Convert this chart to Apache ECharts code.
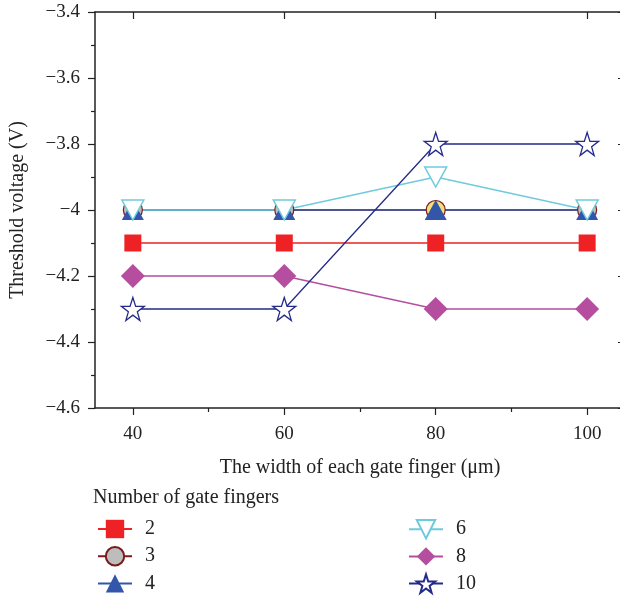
<!DOCTYPE html>
<html><head><meta charset="utf-8">
<script src="https://cdn.jsdelivr.net/npm/echarts@6/dist/echarts.min.js"></script>
<style>html,body{margin:0;padding:0;background:#fff}#c{width:620px;height:596px}</style>
</head><body><div id="c"></div>
<script>
const widths = [40, 60, 80, 100];
const xTicks = [40, 60, 80, 100];
const xMinorTicks = [50, 70, 90];
const seriesNames = ['2', '3', '4', '6', '8', '10'];
const vt2 = [-4.1, -4.1, -4.1, -4.1];
const vt3 = [-4.0, -4.0, -4.0, -4.0];
const vt4 = [-4.0, -4.0, -4.0, -4.0];
const vt6 = [-4.0, -4.0, -3.9, -4.0];
const vt8 = [-4.2, -4.2, -4.3, -4.3];
const vt10 = [-4.3, -4.3, -3.8, -3.8];

const FONT = 'Liberation Serif';
const STAR = 'path://M50,0 L61.8,35.1 L98.1,35.1 L68.8,56.8 L79.4,91.3 L50,70 L20.6,91.3 L31.2,56.8 L1.9,35.1 L38.2,35.1 Z';
const pairs = v => widths.map((w, i) => [w, v[i]]);
const minus = v => String(v).replace('-', '\u2212');
const axisColor = '#222';
const legendCommon = {
  orient: 'vertical', top: 519, padding: 0,
  itemWidth: 34, itemHeight: 23, itemGap: 7,
  textStyle: {fontFamily: FONT, fontSize: 20, color: '#222', padding: [0, 0, 0, 8]}
};

const chart = echarts.init(document.getElementById('c'), null, {renderer: 'canvas'});
chart.setOption({
  animation: false,
  backgroundColor: '#fff',
  title: {
    text: 'Number of gate fingers', left: 93, top: 488, padding: 0,
    textStyle: {fontFamily: FONT, fontSize: 20, fontWeight: 'normal', color: '#222'}
  },
  legend: [
    Object.assign({data: ['2', '3', '4'], left: 97}, legendCommon),
    Object.assign({data: ['6', '8', '10'], left: 408}, legendCommon)
  ],
  grid: {left: 95, width: 530, top: 12, height: 396, containLabel: false, outerBoundsMode: 'none'},
  xAxis: [
    {type: 'value', min: 35, max: 105, position: 'bottom',
     name: 'The width of each gate finger (\u03bcm)', nameLocation: 'middle', nameGap: 50,
     nameTextStyle: {fontFamily: FONT, fontSize: 20, color: '#222'},
     axisLine: {show: true, lineStyle: {color: axisColor, width: 1.5}},
     axisTick: {show: true, customValues: xTicks, length: 7, inside: false, lineStyle: {color: axisColor, width: 1.2}},
     axisLabel: {customValues: xTicks, margin: 17, fontFamily: FONT, fontSize: 19, color: '#222'},
     splitLine: {show: false}},
    {type: 'value', min: 35, max: 105, position: 'bottom',
     axisLine: {show: false},
     axisTick: {show: true, customValues: xMinorTicks, length: 4, lineStyle: {color: axisColor, width: 1.2}},
     axisLabel: {show: false}, splitLine: {show: false}},
    {type: 'value', min: 35, max: 105, position: 'top',
     axisLine: {show: true, lineStyle: {color: axisColor, width: 1.5}},
     axisTick: {show: true, customValues: xTicks, length: 7, inside: true, lineStyle: {color: axisColor, width: 1.2}},
     axisLabel: {show: false}, splitLine: {show: false}}
  ],
  yAxis: [
    {type: 'value', min: -4.6, max: -3.4, interval: 0.2, position: 'left',
     name: 'Threshold voltage (V)', nameLocation: 'middle', nameGap: 67,
     nameTextStyle: {fontFamily: FONT, fontSize: 20, color: '#222'},
     axisLine: {show: true, lineStyle: {color: axisColor, width: 1.5}},
     axisTick: {show: true, length: 7, lineStyle: {color: axisColor, width: 1.2}},
     minorTick: {show: true, splitNumber: 2, length: 4, lineStyle: {color: axisColor, width: 1.2}},
     axisLabel: {margin: 15, fontFamily: FONT, fontSize: 19, color: '#222',
                 formatter: v => minus(Math.round(v * 10) / 10)},
     splitLine: {show: false}},
    {type: 'value', min: -4.6, max: -3.4, interval: 0.2, position: 'right',
     axisLine: {show: true, lineStyle: {color: axisColor, width: 1.5}},
     axisTick: {show: true, length: 7, inside: true, lineStyle: {color: axisColor, width: 1.2}},
     axisLabel: {show: false}, splitLine: {show: false}}
  ],
  series: [
    {name: seriesNames[0], type: 'line', data: pairs(vt2), symbol: 'rect', symbolSize: 17,
     lineStyle: {color: '#ee2224', width: 1.3}, itemStyle: {color: '#ee2224'}},
    {name: seriesNames[1], type: 'line',
     data: pairs(vt3).map((p, i) => i === 2 ? {value: p, itemStyle: {color: '#f2e07a'}} : p),
     symbol: 'circle', symbolSize: 19,
     lineStyle: {color: '#7a1a1a', width: 1.3}, itemStyle: {color: '#bdbdbd', borderColor: '#7a1a1a', borderWidth: 1.2}},
    {name: seriesNames[2], type: 'line', data: pairs(vt4), symbol: 'triangle', symbolSize: [22, 20],
     lineStyle: {color: '#3355aa', width: 1.5}, itemStyle: {color: '#3355aa'}},
    {name: seriesNames[3], type: 'line', data: pairs(vt6), symbol: 'triangle', symbolRotate: 180, symbolSize: [22, 20],
     lineStyle: {color: '#6ecbdc', width: 1.3}, itemStyle: {color: '#ffffff', borderColor: '#6ecbdc', borderWidth: 1.5}},
    {name: seriesNames[4], type: 'line', data: pairs(vt8), symbol: 'diamond', symbolSize: 24,
     lineStyle: {color: '#b54e9f', width: 1.3}, itemStyle: {color: '#b54e9f'}},
    {name: seriesNames[5], type: 'line', data: pairs(vt10), symbol: STAR, symbolSize: 23,
     lineStyle: {color: '#242b88', width: 1.3}, itemStyle: {color: '#ffffff', borderColor: '#242b88', borderWidth: 1.3}}
  ]
});
</script></body></html>
